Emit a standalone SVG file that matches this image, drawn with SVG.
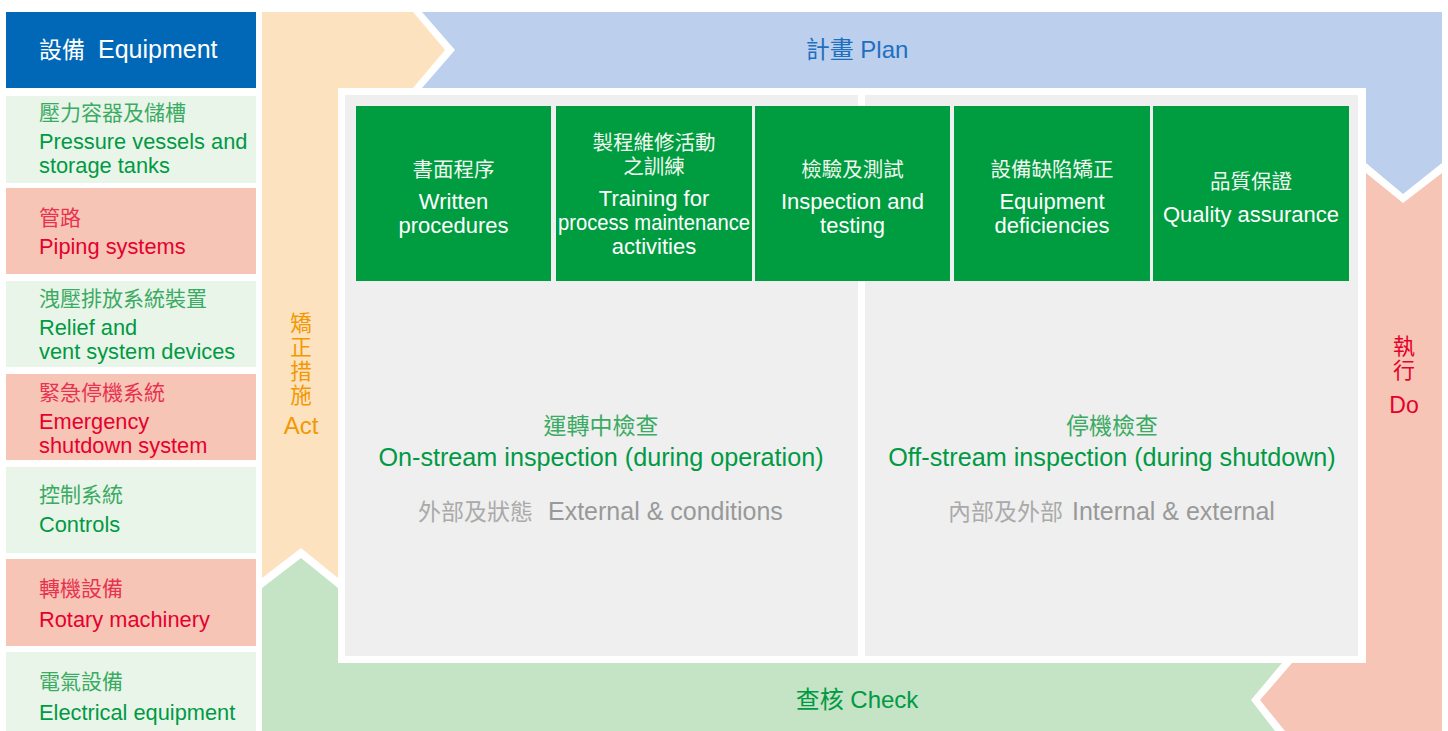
<svg xmlns="http://www.w3.org/2000/svg" width="1448" height="731" viewBox="0 0 1448 731">
<style>
text{font-family:"Liberation Sans","Noto Sans CJK TC",Arial,sans-serif}
.cjk{font-family:"Noto Sans CJK TC","Liberation Sans",sans-serif}
.cg{fill:#eaf5ea}.cp{fill:#f6c5b6}
.tg{fill:#009a44;font-size:21.8px}.tgc{fill:#3aab62;font-size:21px}
.tr{fill:#e5002d;font-size:21.8px}.trc{fill:#e83350;font-size:21px}
.bx{fill:#009d40}
.bt{fill:#fff;font-size:22px;text-anchor:middle}
.btc{fill:#f0f8f0;font-size:20.5px;text-anchor:middle}
.mid{text-anchor:middle}
</style>
<rect width="1448" height="731" fill="#fff"/>
<g id="cycle">
<polygon id="act-arrow" fill="#fce2bf" points="262,12 413,12 445,50 413,88 338,88 338,578 301,548 262,578"/>
<polygon id="plan-arrow" fill="#bccfec" points="422,12 1442,12 1442,163 1403,194 1366,163 1366,88 422,88 455,50"/>
<polygon id="do-arrow" fill="#f6c5b6" points="1366,173 1403,203 1442,173 1442,731 1285,731 1260,700 1292,663 1366,663"/>
<polygon id="check-arrow" fill="#c5e3c5" points="262,588 301,558 338,588 338,663 1282,663 1251,700 1275,731 262,731"/>
</g>
<g id="panels">
<rect x="345" y="95" width="513" height="561" fill="#efefef"/>
<rect x="865" y="95" width="493" height="561" fill="#efefef"/>
</g>
<g id="labels">
<text class="mid" x="857" y="58" fill="#1f6fbf" font-size="24"><tspan class="cjk">計畫</tspan> Plan</text>
<text class="mid" x="857" y="708" fill="#009a44" font-size="24"><tspan class="cjk">查核</tspan> Check</text>
<text class="cjk" fill="#f39800" text-anchor="middle" font-size="21.5"><tspan x="301" y="331">矯</tspan><tspan x="301" y="355">正</tspan><tspan x="301" y="379">措</tspan><tspan x="301" y="403">施</tspan><tspan x="301" y="434" font-size="24" style="font-family:'Liberation Sans',sans-serif">Act</tspan></text>
<text class="cjk" fill="#e5002d" text-anchor="middle" font-size="22"><tspan x="1404" y="354">執</tspan><tspan x="1404" y="378">行</tspan><tspan x="1404" y="413" font-size="23" style="font-family:'Liberation Sans',sans-serif">Do</tspan></text>
</g>
<g id="equipment">
<g id="eq-header"><rect x="6" y="12" width="250" height="76" fill="#0068b7"/>
<text class="cjk" x="39" y="58" fill="#fff" font-size="23">設備</text>
<text x="98" y="58" fill="#fff" font-size="25">Equipment</text></g>
<g id="eq1"><rect class="cg" x="6" y="96" width="250" height="87"/>
<text class="cjk tgc" x="39" y="120">壓力容器及儲槽</text>
<text class="tg" x="39" y="149">Pressure vessels and</text>
<text class="tg" x="39" y="173">storage tanks</text></g>
<g id="eq2"><rect class="cp" x="6" y="188" width="250" height="86"/>
<text class="cjk trc" x="39" y="225">管路</text>
<text class="tr" x="39" y="254">Piping systems</text></g>
<g id="eq3"><rect class="cg" x="6" y="281" width="250" height="86"/>
<text class="cjk tgc" x="39" y="306">洩壓排放系統裝置</text>
<text class="tg" x="39" y="335">Relief and</text>
<text class="tg" x="39" y="359">vent system devices</text></g>
<g id="eq4"><rect class="cp" x="6" y="374" width="250" height="86"/>
<text class="cjk trc" x="39" y="400">緊急停機系統</text>
<text class="tr" x="39" y="429">Emergency</text>
<text class="tr" x="39" y="453">shutdown system</text></g>
<g id="eq5"><rect class="cg" x="6" y="467" width="250" height="86"/>
<text class="cjk tgc" x="39" y="502">控制系統</text>
<text class="tg" x="39" y="532">Controls</text></g>
<g id="eq6"><rect class="cp" x="6" y="559" width="250" height="87"/>
<text class="cjk trc" x="39" y="596">轉機設備</text>
<text class="tr" x="39" y="627">Rotary machinery</text></g>
<g id="eq7"><rect class="cg" x="6" y="652" width="250" height="79"/>
<text class="cjk tgc" x="39" y="689">電氣設備</text>
<text class="tg" x="39" y="720">Electrical equipment</text></g>
</g>
<g id="boxes">
<g id="b1"><rect class="bx" x="356" y="106" width="195" height="175"/>
<text class="cjk btc" x="453.5" y="177">書面程序</text>
<text class="bt" x="453.5" y="209">Written</text>
<text class="bt" x="453.5" y="233">procedures</text></g>
<g id="b2"><rect class="bx" x="556" y="106" width="196" height="175"/>
<text class="cjk btc" x="654" y="150">製程維修活動</text>
<text class="cjk btc" x="654" y="174">之訓練</text>
<text class="bt" x="654" y="206">Training for</text>
<text class="bt" x="654" y="230" textLength="192" lengthAdjust="spacingAndGlyphs">process maintenance</text>
<text class="bt" x="654" y="254">activities</text></g>
<g id="b3"><rect class="bx" x="755" y="106" width="195" height="175"/>
<text class="cjk btc" x="852.5" y="177">檢驗及測試</text>
<text class="bt" x="852.5" y="209">Inspection and</text>
<text class="bt" x="852.5" y="233">testing</text></g>
<g id="b4"><rect class="bx" x="954" y="106" width="196" height="175"/>
<text class="cjk btc" x="1052" y="177">設備缺陷矯正</text>
<text class="bt" x="1052" y="209">Equipment</text>
<text class="bt" x="1052" y="233">deficiencies</text></g>
<g id="b5"><rect class="bx" x="1153" y="106" width="196" height="175"/>
<text class="cjk btc" x="1251" y="189">品質保證</text>
<text class="bt" x="1251" y="222">Quality assurance</text></g>
</g>
<g id="onstream">
<text class="cjk mid" x="601" y="434" fill="#3aab62" font-size="23">運轉中檢查</text>
<text class="mid" x="601" y="466" fill="#009a44" font-size="25.2">On-stream inspection (during operation)</text>
<text class="cjk" x="418" y="520" fill="#aaa" font-size="23">外部及狀態</text>
<text x="548" y="520" fill="#999" font-size="25">External &amp; conditions</text>
</g>
<g id="offstream">
<text class="cjk mid" x="1112" y="434" fill="#3aab62" font-size="23">停機檢查</text>
<text class="mid" x="1112" y="466" fill="#009a44" font-size="25.2">Off-stream inspection (during shutdown)</text>
<text class="cjk" x="948" y="520" fill="#aaa" font-size="23">內部及外部</text>
<text x="1072" y="520" fill="#999" font-size="25">Internal &amp; external</text>
</g>
<g id="connectors"/>
</svg>
